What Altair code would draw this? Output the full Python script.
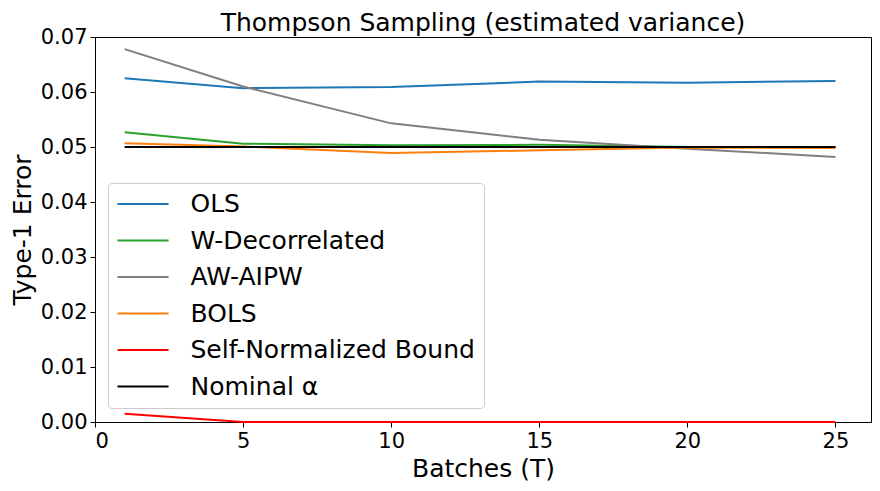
import altair as alt
import pandas as pd

batches = [1, 5, 10, 15, 20, 25]
ols = [0.0625, 0.0607, 0.0609, 0.0619, 0.0617, 0.0620]
w_decor = [0.0527, 0.0506, 0.0503, 0.0504, 0.0500, 0.0500]
aw_aipw = [0.0678, 0.0610, 0.0543, 0.0513, 0.0497, 0.0482]
bols = [0.0507, 0.0501, 0.0489, 0.0494, 0.0499, 0.0498]
snb = [0.0015, 0.0, 0.0, 0.0, 0.0, 0.0]
nominal = [0.05, 0.05, 0.05, 0.05, 0.05, 0.05]

names = ["OLS", "W-Decorrelated", "AW-AIPW", "BOLS", "Self-Normalized Bound", "Nominal α"]
colors = ["#1f77b4", "#2ca02c", "#7f7f7f", "#ff7f0e", "#ff0000", "#000000"]
series = [ols, w_decor, aw_aipw, bols, snb, nominal]

rows = []
for i, (n, vals) in enumerate(zip(names, series)):
    for b, v in zip(batches, vals):
        rows.append({"T": b, "err": v, "method": n, "order": i})
df = pd.DataFrame(rows)

chart = alt.Chart(df).mark_line(strokeWidth=2).encode(
    x=alt.X("T:Q", title="Batches (T)",
            scale=alt.Scale(domain=[0, 26.2], nice=False, zero=False),
            axis=alt.Axis(values=[0, 5, 10, 15, 20, 25], format="d")),
    y=alt.Y("err:Q", title="Type-1 Error",
            scale=alt.Scale(domain=[0, 0.07], nice=False),
            axis=alt.Axis(values=[0, 0.01, 0.02, 0.03, 0.04, 0.05, 0.06, 0.07], format=".2f")),
    color=alt.Color("method:N", sort=names,
                    scale=alt.Scale(domain=names, range=colors),
                    legend=alt.Legend(title=None, orient="none", legendX=13, legendY=146,
                                      symbolType="M -1.8 0 L 6.2 0", symbolSize=163, symbolStrokeWidth=2,
                                      labelFontSize=25, labelFont="DejaVu Sans", labelColor="black",
                                      labelLimit=0,
                                      fillColor="white", strokeColor="#cccccc", cornerRadius=4,
                                      padding=8.5, rowPadding=10.5, labelOffset=49)),
    order=alt.Order("order:Q"),
).properties(
    width=776, height=385,
    title=alt.Title("Thompson Sampling (estimated variance)", fontSize=25, font="DejaVu Sans",
                    fontWeight="normal", color="black", offset=-10),
    padding={"left": 87, "top": 29, "right": 1, "bottom": 61},
    autosize=alt.AutoSizeParams(type="none"),
).configure_view(
    stroke="black", strokeWidth=1
).configure_axis(
    grid=False, domainColor="black", tickColor="black", tickSize=5,
    labelFont="DejaVu Sans", labelFontSize=21, labelColor="black",
    titleFont="DejaVu Sans", titleFontSize=25, titleFontWeight="normal", titleColor="black",
    labelPadding=3, titlePadding=5
)

chart.save("out.html", embed_options={"renderer": "svg", "actions": False})
